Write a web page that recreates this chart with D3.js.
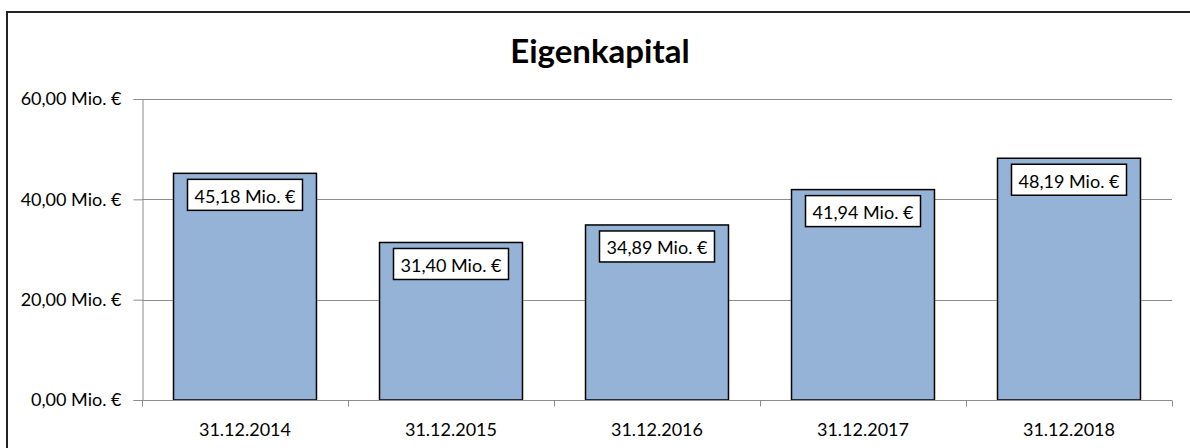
<!DOCTYPE html>
<html>
<head>
<meta charset="utf-8">
<script src="https://cdnjs.cloudflare.com/ajax/libs/d3/7.8.5/d3.min.js"></script>
<style>
  body{margin:0;background:#fff;overflow:hidden;}
  svg{display:block;font-family:Lato,"Open Sans",sans-serif;}
</style>
</head>
<body>
<svg id="chart" width="1190" height="448"></svg>
<script>
// data
const categories = ["31.12.2014","31.12.2015","31.12.2016","31.12.2017","31.12.2018"]
const values = [45.18, 31.40, 34.89, 41.94, 48.19]
const yTicks = [0, 20, 40, 60]
const title = "Eigenkapital"

const svg = d3.select("#chart")
const W = 1190, H = 448
const plotL = 142, plotR = 1172, plotT = 99, plotB = 400

const fmt = v => d3.format(".2f")(v).replace(".", ",") + " Mio. €"

// outer frame: left and top edges only
svg.append("line").attr("x1", 7).attr("x2", 7).attr("y1", 11).attr("y2", H)
  .attr("stroke", "#222").attr("stroke-width", 2)
svg.append("line").attr("x1", 6).attr("x2", W).attr("y1", 12).attr("y2", 12)
  .attr("stroke", "#222").attr("stroke-width", 2)

svg.append("text")
  .attr("x", 600).attr("y", 63)
  .attr("text-anchor", "middle")
  .attr("font-size", 33).attr("font-weight", "bold")
  .attr("fill", "#000")
  .text(title)

let x = d3.scaleBand().domain(categories).range([plotL, plotR]).paddingInner(0.306).paddingOuter(0.153)
let y = d3.scaleLinear().domain([0, 60]).range([plotB, plotT])

// gridlines
svg.append("g").selectAll("line").data(yTicks.slice(1)).join("line")
  .attr("x1", plotL).attr("x2", plotR)
  .attr("y1", d => Math.round(y(d)) + 0.5).attr("y2", d => Math.round(y(d)) + 0.5)
  .attr("stroke", "#8c8c8c").attr("stroke-width", 1)

// y axis
const yAxis = svg.append("g")
  .attr("transform", `translate(${plotL + 0.5},0)`)
  .call(d3.axisLeft(y).tickValues(yTicks).tickSize(9).tickFormat(fmt))
yAxis.select(".domain").attr("stroke", "#8c8c8c")
yAxis.selectAll(".tick line").attr("stroke", "#8c8c8c")
yAxis.selectAll(".tick text").attr("font-size", 18).attr("fill", "#000").attr("x", -21)
  .attr("font-family", "Lato,sans-serif")

// bars
svg.append("g").selectAll("rect").data(values).join("rect")
  .attr("x", (d, i) => x(categories[i]))
  .attr("y", d => y(d))
  .attr("width", x.bandwidth())
  .attr("height", d => plotB - y(d))
  .attr("fill", "#95b3d7")
  .attr("stroke", "#000").attr("stroke-width", 1.5)

// x axis
const step = (plotR - plotL) / categories.length
const xAxis = svg.append("g")
  .attr("transform", `translate(0,${plotB + 0.5})`)
xAxis.append("line").attr("x1", plotL).attr("x2", plotR).attr("stroke", "#8c8c8c")
xAxis.selectAll(".tk").data(d3.range(categories.length + 1)).join("line")
  .attr("class", "tk")
  .attr("x1", i => Math.round(plotL + i * step) + 0.5).attr("x2", i => Math.round(plotL + i * step) + 0.5)
  .attr("y1", 0).attr("y2", 6)
  .attr("stroke", "#8c8c8c")
xAxis.selectAll(".lb").data(categories).join("text")
  .attr("class", "lb")
  .attr("x", d => x(d) + x.bandwidth() / 2)
  .attr("y", 35)
  .attr("text-anchor", "middle")
  .attr("font-size", 18).attr("fill", "#000")
  .text(d => d)

// value labels
const lbl = svg.append("g").selectAll("g").data(values).join("g")
  .attr("transform", (d, i) => `translate(${x(categories[i]) + x.bandwidth() / 2},${y(d) + 6})`)
lbl.append("rect")
  .attr("x", -57.5).attr("y", 0)
  .attr("width", 115).attr("height", 31)
  .attr("fill", "#fff").attr("stroke", "#000").attr("stroke-width", 1.5)
lbl.append("text")
  .attr("x", 0).attr("y", 23.5)
  .attr("text-anchor", "middle")
  .attr("font-size", 18).attr("fill", "#000")
  .text(d => fmt(d))
</script>
</body>
</html>
